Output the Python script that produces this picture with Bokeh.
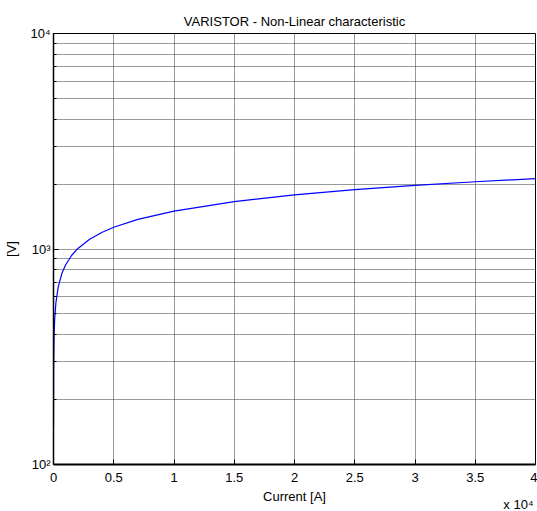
from bokeh.plotting import figure
from bokeh.models import FixedTicker, Range1d, Title, ColumnDataSource
from bokeh.embed import file_html
from bokeh.resources import INLINE

# Data (current in A, voltage in V)
current = [1, 10, 50, 100, 200, 400, 700, 1000, 1500, 2000, 3000, 4000, 5000,
           7000, 10000, 15000, 20000, 25000, 30000, 35000, 40000]
voltage = [150, 267, 399, 474, 564, 671, 771, 843, 933, 1003, 1110, 1193, 1261,
           1372, 1500, 1660, 1784, 1886, 1974, 2051, 2121]

x_ticks = [0, 5000, 10000, 15000, 20000, 25000, 30000, 35000, 40000]
x_tick_labels = ["0", "0.5", "1", "1.5", "2", "2.5", "3", "3.5", "4"]
y_ticks = [100, 1000, 10000]
y_tick_labels = ["10\u00b2", "10\u00b3", "10\u2074"]
y_minor = [200, 300, 400, 500, 600, 700, 800, 900,
           2000, 3000, 4000, 5000, 6000, 7000, 8000, 9000]

FONT = "Liberation Sans"
FS = "13px"

p = figure(width=537, height=511, y_axis_type="log",
           x_range=Range1d(0, 40000), y_range=Range1d(100, 10000),
           output_backend="svg", toolbar_location=None,
           min_border_left=53, min_border_right=2, min_border_top=33,
           min_border_bottom=47,
           title="VARISTOR - Non-Linear characteristic")

p.title.align = "center"
p.title.text_font = FONT
p.title.text_font_size = FS
p.title.text_font_style = "normal"
p.title.text_color = "black"

src = ColumnDataSource(dict(x=current, y=voltage))
p.line("x", "y", source=src, line_color="#0000ff", line_width=1.2)

p.xaxis.ticker = FixedTicker(ticks=x_ticks)
p.xaxis.major_label_overrides = {t: l for t, l in zip(x_ticks, x_tick_labels)}
p.yaxis.ticker = FixedTicker(ticks=y_ticks, minor_ticks=y_minor)
p.yaxis.major_label_overrides = {t: l for t, l in zip(y_ticks, y_tick_labels)}

for ax in (p.xaxis, p.yaxis):
    ax.axis_line_color = "black"
    ax.axis_line_width = 1.5
    ax.major_tick_in = 5
    ax.major_tick_out = 0
    ax.minor_tick_in = 3
    ax.minor_tick_out = 0
    ax.major_label_text_font = FONT
    ax.major_label_text_font_size = FS
    ax.major_label_text_color = "black"
    ax.axis_label_text_font = FONT
    ax.axis_label_text_font_size = FS
    ax.axis_label_text_font_style = "normal"
    ax.axis_label_text_color = "black"
p.xaxis.axis_line_width = 2
p.xaxis.minor_tick_in = 0
p.xaxis.major_label_standoff = 8
p.yaxis.major_label_standoff = 3
p.xaxis.axis_label = "Current [A]"
p.yaxis.axis_label = "[V]"
p.xaxis.axis_label_standoff = 4
p.yaxis.axis_label_standoff = 8

for g in (p.xgrid, p.ygrid):
    g.grid_line_color = "#333333"
    g.grid_line_dash = "1 1"
    g.grid_line_alpha = 1
p.ygrid.minor_grid_line_color = "#333333"
p.ygrid.minor_grid_line_dash = "1 1"
p.ygrid.minor_grid_line_alpha = 1

p.outline_line_color = "black"
p.outline_line_width = 1
p.outline_line_alpha = 1

p.add_layout(Title(text="x 10\u2074", align="right", vertical_align="top",
                   offset=2, standoff=-20, text_font=FONT,
                   text_font_size=FS, text_font_style="normal",
                   text_color="black"), "below")

open("out.html", "w").write(file_html(p, INLINE))
